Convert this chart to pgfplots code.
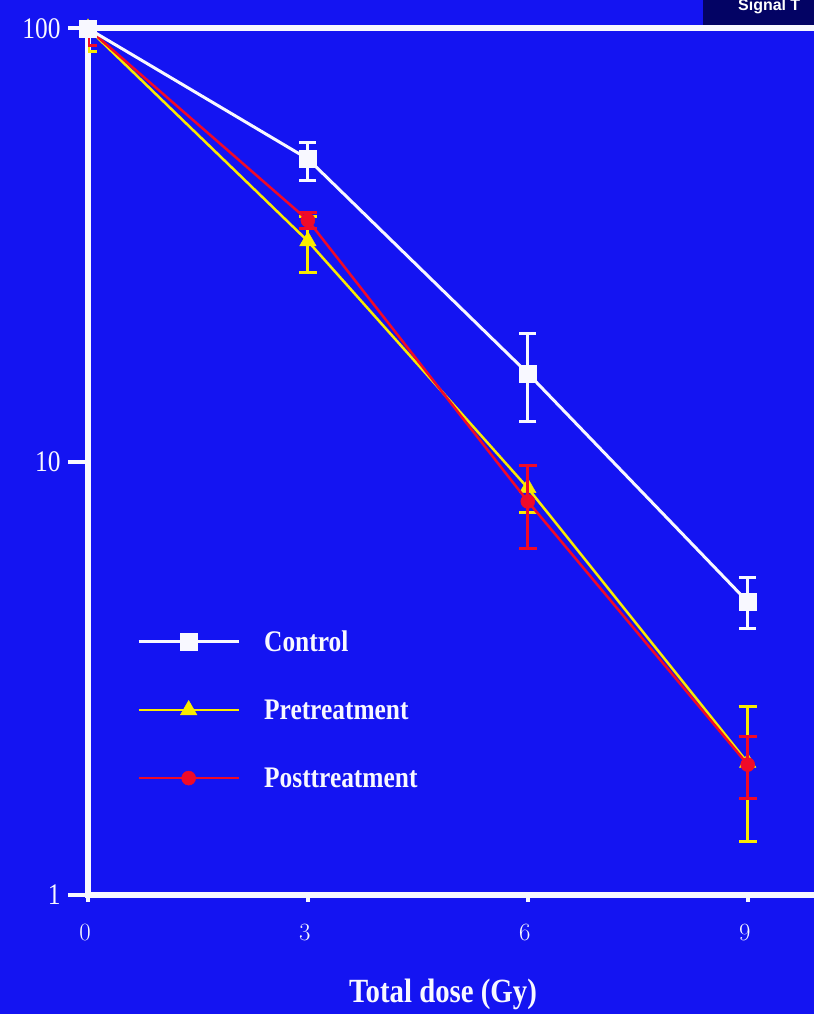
\documentclass[border=0pt]{standalone}
\usepackage{fontspec}
\setmainfont{Liberation Serif}[FakeStretch=0.85]
\newfontfamily\sigfont{Liberation Sans}
\usepackage{pgfplots}
\pgfplotsset{compat=1.18}
\usepackage{pgfplotstable}
\definecolor{bgblue}{RGB}{20,20,242}
\definecolor{navy}{RGB}{3,3,100}
\definecolor{cwhite}{RGB}{248,248,255}
\definecolor{cyellow}{RGB}{250,235,0}
\definecolor{cred}{RGB}{240,10,40}

\pgfplotstableread{
x y ep em
0 100 0 0
3 50 4.5 5.5
6 16 3.8 3.6
9 4.75 0.65 0.62
}\control
\pgfplotstableread{
x y ep em
0 100 0 11.7
3 32.3 4.5 5.0
6 8.7 1.1 1.05
9 2.02 0.7 0.69
}\pre
\pgfplotstableread{
x y ep em
0 100 0 8.4
3 36.1 1.5 1.5
6 8.1 1.7 1.8
9 2.0 0.32 0.33
}\post

\pgfplotsset{
  controlstyle/.style={cwhite, line width=3bp, mark=square*, mark size=8.5bp, mark options={solid, fill=cwhite, line width=0.5bp}},
}

\begin{document}
\begin{tikzpicture}
\useasboundingbox (0bp,0bp) rectangle (814bp,1014bp);
\clip (0bp,0bp) rectangle (814bp,1014bp);
\fill[bgblue] (0bp,0bp) rectangle (814bp,1014bp);
\fill[navy] (703bp,988bp) rectangle (814bp,1014bp);
\node[anchor=base west, inner sep=0pt, text=white, font=\sigfont\bfseries\fontsize{16}{18}\selectfont] at (738bp,1003bp) {Signal T};
\begin{axis}[
  at={(88bp,119bp)}, anchor=south west,
  scale only axis, width=733bp, height=866.5bp,
  xmin=0, xmax=10, ymode=log, ymin=1, ymax=100,
  axis line style={cwhite, line width=6bp},
  xtick={0,3,6,9}, ytick={1,10,100}, yticklabels={1,10,100},
  xtick pos=bottom, ytick pos=left,
  tick align=outside, major tick length=7bp,
  tick style={cwhite, line width=4bp},
  yminorticks=false,
  ticklabel style={text=cwhite, font=\fontsize{30}{32}\selectfont},
  xticklabel style={yshift=-19bp, xshift=-3bp},
  yticklabel style={xshift=-17bp},
  xlabel={Total dose (Gy)},
  xlabel style={at={(axis description cs:0.4843,0)}, anchor=base, yshift=-107bp, text=cwhite, font=\bfseries\fontsize{34}{36}\selectfont},
  clip mode=individual,
  legend style={at={(axis description cs:0.0668,0.308)}, anchor=north west, draw=none, fill=none, text=cwhite, font=\bfseries\fontsize{30}{32}\selectfont, row sep=43bp, inner sep=0pt, /tikz/every odd column/.append style={column sep=22bp}},
  legend cell align=left,
  legend image code/.code={\draw[mark repeat=2,mark phase=2,#1] plot coordinates {(0bp,0bp) (50bp,0bp) (100bp,0bp)};},
]
\addlegendimage{controlstyle}
\addlegendentry{Control}
\addplot[cyellow, line width=2.5bp, mark=triangle*, mark size=9.5bp, mark options={solid, fill=cyellow, line width=0.5bp},
  error bars/.cd, y dir=both, y explicit, error bar style={line width=3bp, cyellow}, error mark options={rotate=90, mark size=9bp, line width=3bp, cyellow}]
  table[x=x, y=y, y error plus=ep, y error minus=em] {\pre};
\addlegendentry{Pretreatment}
\addplot[cred, line width=2.5bp, mark=*, mark size=7bp, mark options={solid, fill=cred, line width=0.5bp},
  error bars/.cd, y dir=both, y explicit, error bar style={line width=3bp, cred}, error mark options={rotate=90, mark size=9bp, line width=3bp, cred}]
  table[x=x, y=y, y error plus=ep, y error minus=em] {\post};
\addlegendentry{Posttreatment}
\addplot[controlstyle, forget plot,
  error bars/.cd, y dir=both, y explicit, error bar style={line width=3bp, cwhite}, error mark options={rotate=90, mark size=8.5bp, line width=3bp, cwhite}]
  table[x=x, y=y, y error plus=ep, y error minus=em] {\control};
\draw[cwhite, line width=4bp] (axis cs:0,1) -- ++(-20bp,0bp);
\draw[cwhite, line width=4bp] (axis cs:0,10) -- ++(-20bp,0bp);
\draw[cwhite, line width=4bp] (axis cs:0,100) -- ++(-20bp,0bp);
\end{axis}
\end{tikzpicture}
\end{document}
